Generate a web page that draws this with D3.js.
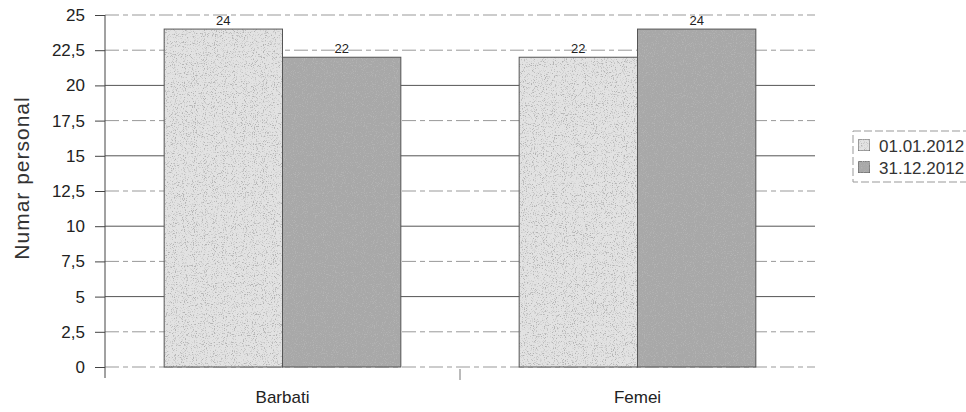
<!DOCTYPE html>
<html>
<head>
<meta charset="utf-8">
<script src="https://cdn.jsdelivr.net/npm/d3@7"></script>
<style>
  body { margin: 0; background: #fff; }
  text { font-family: "Liberation Sans", Arial, sans-serif; }
</style>
</head>
<body>
<svg id="chart" width="966" height="412"></svg>
<script>
// data
var categories = ["Barbati", "Femei"];
var seriesNames = ["01.01.2012", "31.12.2012"];
var values01 = [24, 22];
var values31 = [22, 24];
var yTicks = [0, 2.5, 5, 7.5, 10, 12.5, 15, 17.5, 20, 22.5, 25];

var svg = d3.select("#chart");
var plotLeft = 105, plotRight = 815, plotTop = 15, plotBottom = 367;

var x0 = d3.scaleBand().domain(categories).range([plotLeft, plotRight]);
var x1 = d3.scaleBand().domain(seriesNames)
  .range([0, x0.bandwidth()]).paddingOuter(0.5).paddingInner(0);
var y = d3.scaleLinear().domain([0, 25]).range([plotBottom, plotTop]);

var fills = ["#e2e2e2", "#a8a8a8"];

// light stipple texture like the scanned print
var defs = svg.append("defs");
var grain = defs.append("filter").attr("id", "grain")
  .attr("x", 0).attr("y", 0).attr("width", "100%").attr("height", "100%");
grain.append("feTurbulence").attr("type", "fractalNoise")
  .attr("baseFrequency", 0.9).attr("numOctaves", 2).attr("seed", 4).attr("result", "noise");
grain.append("feColorMatrix").attr("in", "noise").attr("type", "matrix")
  .attr("values", "0 0 0 0 0.45  0 0 0 0 0.45  0 0 0 0 0.45  0 0 0 -5 2.3").attr("result", "dots");
grain.append("feComposite").attr("in", "dots").attr("in2", "SourceGraphic")
  .attr("operator", "in").attr("result", "dots2");
var merge = grain.append("feMerge");
merge.append("feMergeNode").attr("in", "SourceGraphic");
merge.append("feMergeNode").attr("in", "dots2");

function isMajor(d) { return d % 5 === 0 && d > 0 && d < 25; }

// gridlines
svg.append("g").selectAll("line")
  .data(yTicks)
  .join("line")
  .attr("x1", plotLeft).attr("x2", plotRight)
  .attr("y1", d => y(d)).attr("y2", d => y(d))
  .attr("stroke", d => isMajor(d) ? "#555" : "#999")
  .attr("stroke-width", 1)
  .attr("stroke-dasharray", d => isMajor(d) ? null : "14,4,5,4");

// bars
var flat = [];
categories.forEach(function(c, i) {
  flat.push({cat: c, s: seriesNames[0], v: values01[i], k: 0});
  flat.push({cat: c, s: seriesNames[1], v: values31[i], k: 1});
});

svg.append("g").selectAll("rect")
  .data(flat)
  .join("rect")
  .attr("x", d => x0(d.cat) + x1(d.s))
  .attr("y", d => y(d.v))
  .attr("width", x1.bandwidth())
  .attr("height", d => y(0) - y(d.v))
  .attr("fill", d => fills[d.k])
  .attr("filter", "url(#grain)");

svg.append("g").selectAll("rect")
  .data(flat)
  .join("rect")
  .attr("x", d => x0(d.cat) + x1(d.s))
  .attr("y", d => y(d.v))
  .attr("width", x1.bandwidth())
  .attr("height", d => y(0) - y(d.v))
  .attr("fill", "none")
  .attr("stroke", "#555")
  .attr("stroke-width", 1);

// value labels
svg.append("g").selectAll("text")
  .data(flat)
  .join("text")
  .attr("x", d => x0(d.cat) + x1(d.s) + x1.bandwidth() / 2)
  .attr("y", d => y(d.v) - 4)
  .attr("text-anchor", "middle")
  .style("font-size", "13px")
  .attr("fill", "#222")
  .text(d => d.v);

// y axis
var yAxis = svg.append("g")
  .attr("transform", "translate(" + plotLeft + ",0)")
  .call(d3.axisLeft(y).tickValues(yTicks).tickSize(10).tickPadding(10)
    .tickFormat(d => String(d).replace(".", ",")));
yAxis.select(".domain").remove();
yAxis.selectAll("line").attr("stroke", "#444");
yAxis.selectAll("text").style("font-size", "17px").attr("fill", "#222")
  .style("font-family", "Liberation Sans, Arial, sans-serif");
svg.append("line")
  .attr("x1", plotLeft).attr("x2", plotLeft)
  .attr("y1", plotTop).attr("y2", plotBottom + 11)
  .attr("stroke", "#444");

// x axis category separator and labels
svg.append("line")
  .attr("x1", x0("Femei")).attr("x2", x0("Femei"))
  .attr("y1", plotBottom + 2).attr("y2", plotBottom + 13)
  .attr("stroke", "#777");
svg.append("g").selectAll("text")
  .data(categories)
  .join("text")
  .attr("x", d => x0(d) + x0.bandwidth() / 2)
  .attr("y", 403)
  .attr("text-anchor", "middle")
  .style("font-size", "17px")
  .attr("fill", "#222")
  .text(d => d);

// y label
svg.append("text")
  .attr("transform", "translate(29," + 178 + ") rotate(-90)")
  .attr("text-anchor", "middle")
  .style("font-size", "21px")
  .style("letter-spacing", "1px")
  .attr("fill", "#333")
  .text("Numar personal");

// legend
var lg = svg.append("g").attr("transform", "translate(853,131)");
lg.append("rect").attr("x", 0).attr("y", 0).attr("width", 120).attr("height", 51)
  .attr("fill", "none").attr("stroke", "#999").attr("stroke-dasharray", "8,3");
var item = lg.selectAll(".item")
  .data(seriesNames)
  .join("g")
  .attr("transform", (d, i) => "translate(5," + (8 + i * 22) + ")");
item.append("rect").attr("width", 12).attr("height", 12)
  .attr("fill", (d, i) => fills[i]).attr("stroke", "#555")
  .attr("filter", "url(#grain)");
item.append("text").attr("x", 21).attr("y", 13)
  .style("font-size", "17px").attr("fill", "#333")
  .text(d => d);
</script>
</body>
</html>
